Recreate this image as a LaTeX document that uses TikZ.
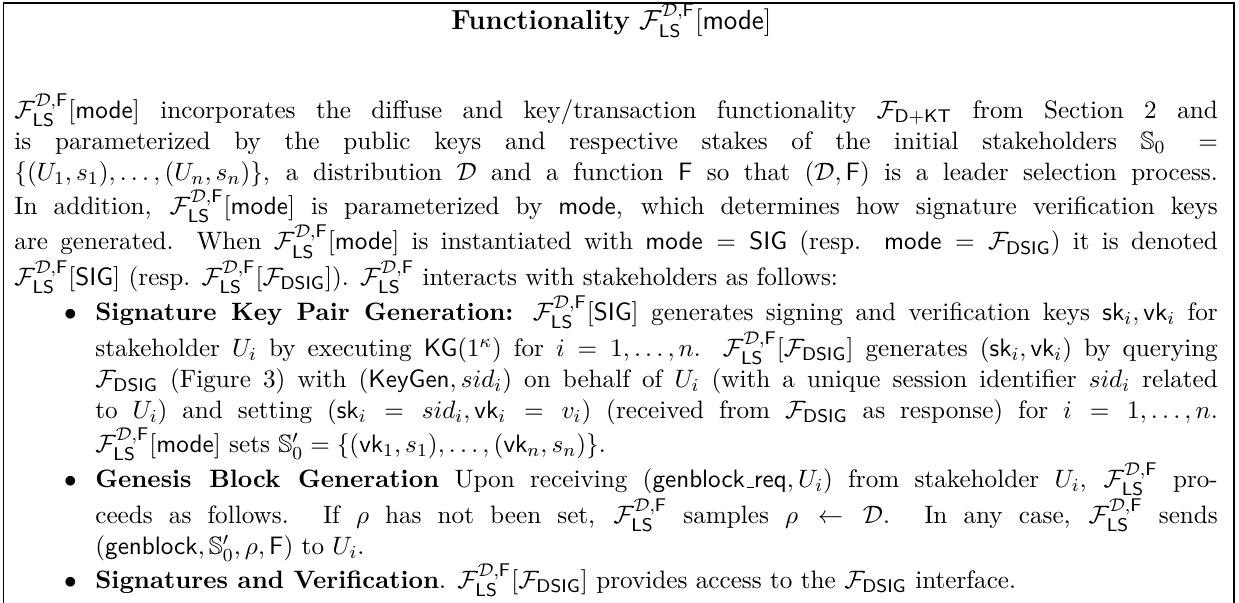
\documentclass[11pt,tikz,border=0pt]{standalone}
\usepackage{amsmath}
\usepackage{amssymb}
\usetikzlibrary{positioning,calc}
\newcommand{\FLS}{\mathcal{F}_{\mathsf{LS}}^{\mathcal{D},\mathsf{F}}}
\newcommand{\FDSIG}{\mathcal{F}_{\mathsf{DSIG}}}
\newcommand{\lowbar}{\kern.06em\vbox{\hrule width.3em}}
\newenvironment{steps}
  {\begin{list}{$\bullet$}{\setlength{\leftmargin}{35.2pt}\setlength{\labelsep}{8.1pt}%
     \setlength{\labelwidth}{10pt}\setlength{\topsep}{0pt}\setlength{\partopsep}{0pt}%
     \setlength{\itemsep}{0pt}\setlength{\parsep}{0pt}}}
  {\end{list}}

\begin{document}
\begin{tikzpicture}
  [
    x=1pt, y=1pt,
    frame/.style = {draw, line width=0.5pt},
    head/.style = {inner sep=0pt, anchor=base, font=\large},
    body/.style = {inner sep=0pt, anchor=north west, text width=523.5pt, align=justify}
  ]
  \useasboundingbox (0, 0) rectangle (539, -262.3);

  \coordinate (tl) at (1.7, -1.3);
  \coordinate (tr) at (536.8, -1.3);
  \coordinate (bl) at (1.7, -262.3);
  \coordinate (br) at (536.8, -262.3);
  \draw [frame] (bl) -- (tl) -- (tr) -- (br);

  \node [head] (title) at (266, -13) {\textbf{Functionality} $\FLS[\mathsf{mode}]$};

  \node [body] (text) at (6.1, -40.4) {%
    $\FLS[\mathsf{mode}]$ incorporates the diffuse and key/transaction functionality $\mathcal{F}_{\mathsf{D+KT}}$ from Section 2 and\linebreak
    is parameterized by the public keys and respective stakes of the initial stakeholders $\mathbb{S}_0 =$\linebreak
    $\{(U_1,s_1),\ldots,(U_n,s_n)\}$, a distribution $\mathcal{D}$ and a function $\mathsf{F}$ so that $(\mathcal{D},\mathsf{F})$ is a leader selection process.\linebreak
    In addition, $\FLS[\mathsf{mode}]$ is parameterized by $\mathsf{mode}$, which determines how signature verification keys\linebreak
    are generated. When $\FLS[\mathsf{mode}]$ is instantiated with $\mathsf{mode} = \mathsf{SIG}$ (resp. $\mathsf{mode} = \FDSIG$) it is denoted\linebreak
    $\FLS[\mathsf{SIG}]$ (resp. $\FLS[\FDSIG]$). $\FLS$ interacts with stakeholders as follows:
    \begin{steps}
      \item \textbf{Signature Key Pair Generation:} $\FLS[\mathsf{SIG}]$ generates signing and verification keys $\mathsf{sk}_i,\mathsf{vk}_i$ for\linebreak
        stakeholder $U_i$ by executing $\mathsf{KG}(1^\kappa)$ for $i=1,\ldots,n$. $\FLS[\FDSIG]$ generates $(\mathsf{sk}_i,\mathsf{vk}_i)$ by querying\linebreak
        $\FDSIG$ (Figure 3) with $(\mathsf{KeyGen},sid_i)$ on behalf of $U_i$ (with a unique session identifier $sid_i$ related\linebreak
        to $U_i$) and setting $(\mathsf{sk}_i = sid_i,\mathsf{vk}_i = v_i)$ (received from $\FDSIG$ as response) for $i = 1,\ldots,n$.\linebreak
        $\FLS[\mathsf{mode}]$ sets $\mathbb{S}_0' = \{(\mathsf{vk}_1,s_1),\ldots,(\mathsf{vk}_n,s_n)\}$.
      \item \textbf{Genesis Block Generation} Upon receiving $(\mathsf{genblock}\lowbar\mathsf{req},U_i)$ from stakeholder $U_i$, $\FLS$ pro-\linebreak
        ceeds as follows. If $\rho$ has not been set, $\FLS$ samples $\rho \leftarrow \mathcal{D}$. In any case, $\FLS$ sends\linebreak
        $(\mathsf{genblock},\mathbb{S}_0',\rho,\mathsf{F})$ to $U_i$.
      \item \textbf{Signatures and Verification}. $\FLS[\FDSIG]$ provides access to the $\FDSIG$ interface.
    \end{steps}
  };
\end{tikzpicture}
\end{document}
